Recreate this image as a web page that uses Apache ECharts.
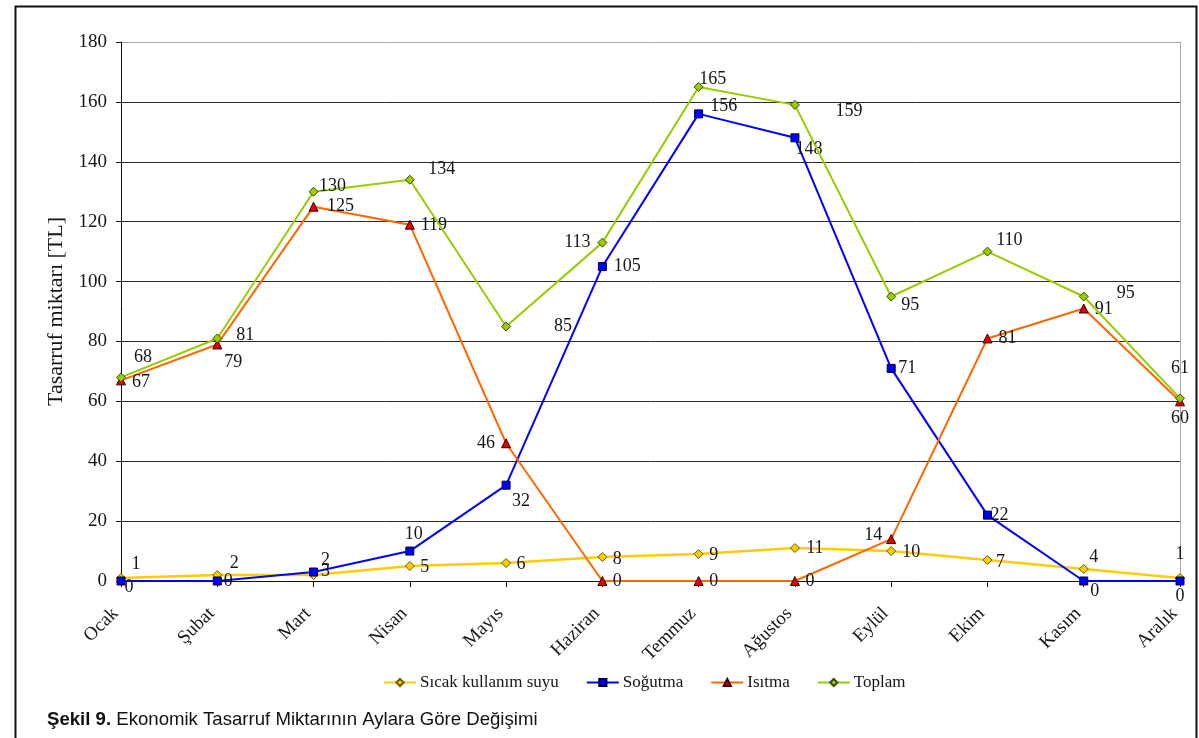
<!DOCTYPE html>
<html>
<head>
<meta charset="utf-8">
<title>Ekonomik Tasarruf Miktarı</title>
<script src="https://cdn.jsdelivr.net/npm/echarts@6/dist/echarts.min.js"></script>
<style>
  html, body { margin: 0; padding: 0; background: #fff; }
  #chart { width: 1199px; height: 738px; }
</style>
</head>
<body>
<div id="chart"></div>
<script>
// Months on the category axis
const months = ['Ocak', 'Şubat', 'Mart', 'Nisan', 'Mayıs', 'Haziran', 'Temmuz', 'Ağustos', 'Eylül', 'Ekim', 'Kasım', 'Aralık'];

// Monthly savings per item [TL]
const sicakKullanimSuyu = [1, 2, 2, 5, 6, 8, 9, 11, 10, 7, 4, 1];
const sogutma = [0, 0, 3, 10, 32, 105, 156, 148, 71, 22, 0, 0];
const isitma = [67, 79, 125, 119, 46, 0, 0, 0, 14, 81, 91, 60];
const toplam = [68, 81, 130, 134, 85, 113, 165, 159, 95, 110, 95, 61];

// Y axis range
const yMin = 0, yMax = 180, yStep = 20;

// Where each value label sits relative to its marker (px)
const sicakLabelOffset = [[15,-14],[17,-12],[12,-15],[15,1],[15,1],[15,2],[15,1],[20,0],[20,1],[13,2],[10,-12],[0,-24]];
const sogutmaLabelOffset = [[8,6],[11,0],[12,-1],[4,-17],[15,16],[25,0],[25,-8],[14,11],[16,0],[12,0],[11,10],[0,15]];
const isitmaLabelOffset = [[20,2],[16,18],[27,0],[24,1],[-20,0],[15,0],[15,0],[15,0],[-18,-4],[20,0],[20,1],[0,17]];
const toplamLabelOffset = [[22,-20],[28,-3],[19,-5],[32,-10],[57,0],[-25,0],[14,-8],[54,6],[19,9],[22,-11],[42,-3],[0,-30]];

const serif = '"Liberation Serif", "Times New Roman", serif';
const sans = '"Liberation Sans", Arial, sans-serif';
const textColor = '#151515';

function withLabels(values, offsets) {
  return values.map((v, i) => ({
    value: v,
    label: { offset: offsets[i] }
  }));
}

const valueLabel = {
  show: true,
  position: 'inside',
  align: 'center',
  verticalAlign: 'middle',
  fontFamily: serif,
  fontSize: 18,
  color: textColor
};

// Grid line colours: the top line is lighter, like the plot border
const splitColors = [];
for (let v = yMin; v <= yMax; v += yStep) splitColors.push(v === yMax ? '#a8a8a8' : '#2a2a2a');

const chart = echarts.init(document.getElementById('chart'), null, { renderer: 'canvas' });

chart.setOption({
  backgroundColor: '#ffffff',
  animation: false,
  grid: { left: 121, right: 19, top: 42, bottom: 157, containLabel: false },
  legend: {
    top: 669,
    left: 378,
    itemWidth: 32,
    itemHeight: 9,
    itemGap: 27,
    textStyle: { fontFamily: serif, fontSize: 17, color: textColor, padding: [0, 0, 0, -1] },
    data: ['Sıcak kullanım suyu', 'Soğutma', 'Isıtma', 'Toplam']
  },
  xAxis: {
    type: 'category',
    data: months,
    boundaryGap: false,
    axisLine: { lineStyle: { color: '#111', width: 1 } },
    axisTick: { show: true, length: 6, lineStyle: { color: '#111' } },
    axisLabel: {
      rotate: 45,
      margin: 24,
      padding: [0, 8, 0, 0],
      fontFamily: serif,
      fontSize: 19,
      color: textColor,
      interval: 0
    },
    splitLine: { show: false }
  },
  yAxis: [{
    type: 'value',
    min: yMin,
    max: yMax,
    interval: yStep,
    name: 'Tasarruf miktarı [TL]',
    nameLocation: 'middle',
    nameGap: 64,
    nameRotate: 90,
    nameTextStyle: { fontFamily: serif, fontSize: 22, color: textColor, verticalAlign: 'middle' },
    axisLine: { show: true, lineStyle: { color: '#111', width: 1 } },
    axisTick: { show: true, length: 5, lineStyle: { color: '#111' } },
    axisLabel: { fontFamily: serif, fontSize: 19, color: textColor, margin: 14 },
    splitLine: { show: true, lineStyle: { color: splitColors, width: 1 } }
  }, {
    type: 'value',
    position: 'right',
    min: yMin,
    max: yMax,
    interval: yStep,
    axisLine: { show: true, lineStyle: { color: '#a8a8a8', width: 1 } },
    axisTick: { show: false },
    axisLabel: { show: false },
    splitLine: { show: false }
  }],
  graphic: [{
    type: 'rect',
    shape: { x: 15.5, y: 6.5, width: 1181, height: 800 },
    style: { fill: 'none', stroke: '#111', lineWidth: 2 },
    silent: true,
    z: -1
  }, {
    type: 'text',
    left: 47,
    top: 710,
    style: {
      text: '{b|Şekil 9.} Ekonomik Tasarruf Miktarının Aylara Göre Değişimi',
      font: '18.6px ' + sans,
      fill: '#111',
      rich: {
        b: { fontFamily: sans, fontSize: 18.6, fontWeight: 'bold', fill: '#111' }
      }
    }
  }],
  series: [{
    name: 'Sıcak kullanım suyu',
    type: 'line',
    data: withLabels(sicakKullanimSuyu, sicakLabelOffset),
    symbol: 'diamond',
    symbolSize: 9,
    lineStyle: { color: '#FFCC00', width: 2.5 },
    itemStyle: { color: '#FFCC00', borderColor: '#6b5a00', borderWidth: 1 },
    label: valueLabel,
    z: 2
  }, {
    name: 'Soğutma',
    type: 'line',
    data: withLabels(sogutma, sogutmaLabelOffset),
    symbol: 'rect',
    symbolSize: 8,
    lineStyle: { color: '#0000FF', width: 2 },
    itemStyle: { color: '#0000FF', borderColor: '#000033', borderWidth: 1 },
    label: valueLabel,
    z: 3
  }, {
    name: 'Isıtma',
    type: 'line',
    data: withLabels(isitma, isitmaLabelOffset),
    symbol: 'triangle',
    symbolSize: 9,
    lineStyle: { color: '#FF6600', width: 2 },
    itemStyle: { color: '#E00000', borderColor: '#3a0000', borderWidth: 1 },
    label: valueLabel,
    z: 4
  }, {
    name: 'Toplam',
    type: 'line',
    data: withLabels(toplam, toplamLabelOffset),
    symbol: 'diamond',
    symbolSize: 9,
    lineStyle: { color: '#99CC00', width: 2 },
    itemStyle: { color: '#99CC00', borderColor: '#3a4a00', borderWidth: 1 },
    label: valueLabel,
    z: 5
  }]
});
</script>
</body>
</html>
